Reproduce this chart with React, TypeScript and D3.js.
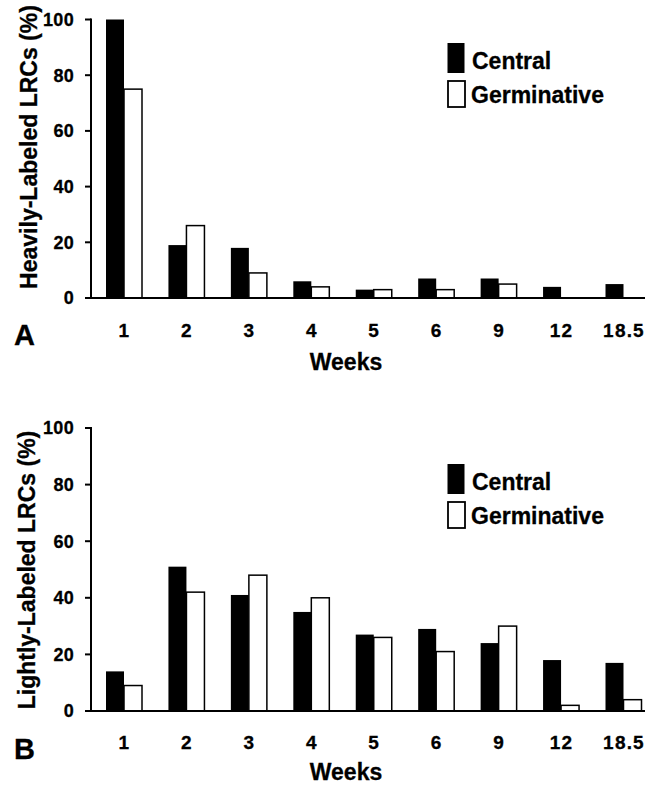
import React from 'react';
import * as d3 from 'd3';

const weeks = ['1', '2', '3', '4', '5', '6', '9', '12', '18.5'];
const seriesNames = ['Central', 'Germinative'];
const heavyCentral = [100, 19, 18, 6, 3, 7, 7, 4, 5];
const heavyGerminative = [75, 26, 9, 4, 3, 3, 5, 0, 0];
const lightCentral = [14, 51, 41, 35, 27, 29, 24, 18, 17];
const lightGerminative = [9, 42, 48, 40, 26, 21, 30, 2, 4];
const yTicks = [0, 20, 40, 60, 80, 100];

const FONT = '"Liberation Sans", Arial, sans-serif';
const W = 646;
const H = 786;

// layout of each panel (pixel positions only)
const panels = [
  { letter: 'A', title: 'Heavily-Labeled LRCs (%)', central: heavyCentral, germ: heavyGerminative,
    yTop: 19.5, yBase: 298, legendY: 43, tickY: 337, weeksY: 370, letterY: 345, labelY: 147, labelX: 37 },
  { letter: 'B', title: 'Lightly-Labeled LRCs (%)', central: lightCentral, germ: lightGerminative,
    yTop: 428, yBase: 711, legendY: 464, tickY: 749, weeksY: 780, letterY: 759, labelY: 570, labelX: 35 },
];

function Panel({ p }: { p: typeof panels[number] }) {
  const x = d3.scalePoint<string>().domain(weeks).range([124.5, 624]);
  const sub = d3.scaleBand<string>().domain(seriesNames).range([-18.5, 17.5]);
  const y = d3.scaleLinear().domain([0, 100]).range([p.yBase, p.yTop]);
  const axisX = 91;

  return (
    <g fontFamily={FONT} fontWeight="bold" fill="#000" stroke="none">
      {/* y label */}
      <text transform={`translate(${p.labelX},${p.labelY}) rotate(-90)`} textAnchor="middle" fontSize={23}
        stroke="#000" strokeWidth={0.3}>
        {p.title}
      </text>
      {/* bars */}
      {weeks.map((w, i) => {
        const vals = [p.central[i], p.germ[i]];
        return seriesNames.map((s, j) => {
          const v = vals[j];
          if (!v) return null;
          const x0 = (x(w) as number) + (sub(s) as number);
          const bw = sub.bandwidth();
          return (
            <rect key={w + s} x={x0} y={y(v)} width={bw} height={y(0) - y(v)}
              fill={j === 0 ? '#000' : '#fff'} stroke="#000" strokeWidth={j === 0 ? 0 : 1.5} />
          );
        });
      })}
      {/* y axis */}
      <line x1={axisX} x2={axisX} y1={y(100) - 1} y2={y(0)} stroke="#000" strokeWidth={2} />
      {yTicks.map((t) => (
        <g key={t}>
          <line x1={axisX - 6} x2={axisX} y1={y(t)} y2={y(t)} stroke="#000" strokeWidth={2} />
          <text x={74} y={y(t)} dy="0.36em" textAnchor="end" fontSize={18} letterSpacing={0.3}
            stroke="#000" strokeWidth={0.3}>{t}</text>
        </g>
      ))}
      {/* x axis */}
      <line x1={axisX - 6} x2={645} y1={y(0)} y2={y(0)} stroke="#000" strokeWidth={2.2} />
      {weeks.map((w) => (
        <text key={w} x={x(w)} y={p.tickY} textAnchor="middle" fontSize={19} letterSpacing={1.2}
          stroke="#000" strokeWidth={0.3}>{w}</text>
      ))}
      <text x={346} y={p.weeksY} textAnchor="middle" fontSize={23} stroke="#000" strokeWidth={0.3}>Weeks</text>
      <text x={14} y={p.letterY} fontSize={29} stroke="#000" strokeWidth={0.3}>{p.letter}</text>
      {/* legend */}
      <rect x={447.5} y={p.legendY} width={17} height={30} fill="#000" />
      <text x={472} y={p.legendY + 26} fontSize={23} stroke="#000" strokeWidth={0.3}>Central</text>
      <rect x={448} y={p.legendY + 38} width={17} height={26} fill="#fff" stroke="#000" strokeWidth={1.8} />
      <text x={471} y={p.legendY + 60} fontSize={23} stroke="#000" strokeWidth={0.3}>Germinative</text>
    </g>
  );
}

export default function App() {
  return (
    <svg width={W} height={H} style={{ position: 'absolute', left: 0, top: 0, background: '#fff' }}>
      {panels.map((p) => (
        <Panel key={p.letter} p={p} />
      ))}
    </svg>
  );
}
